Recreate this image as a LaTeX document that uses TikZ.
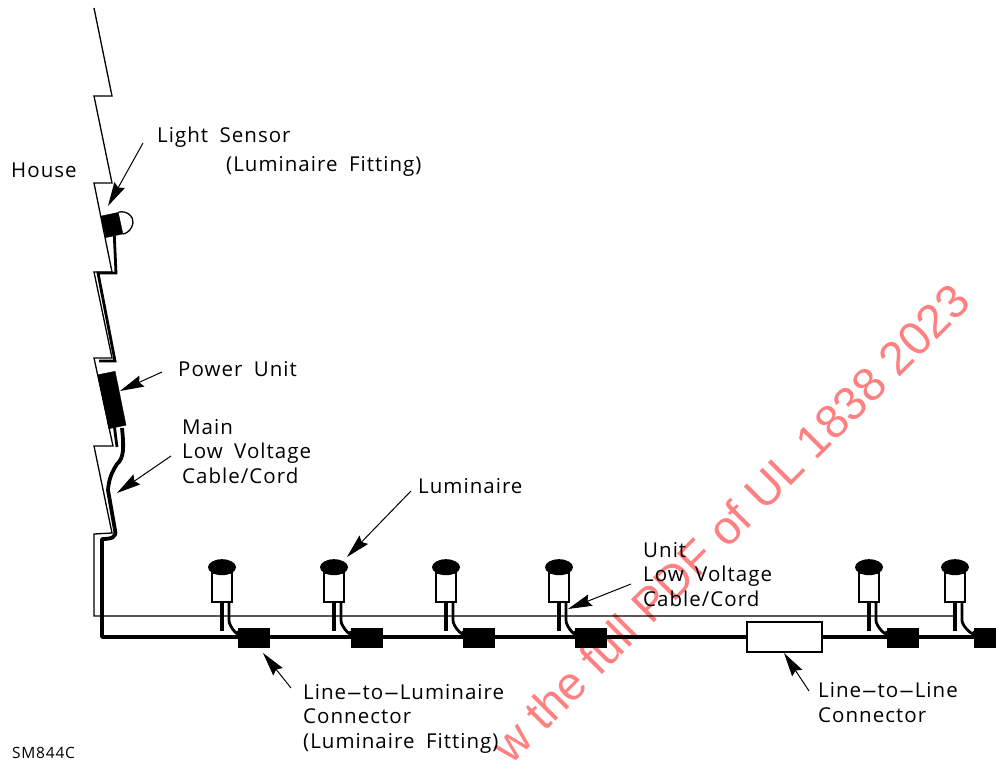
\documentclass[tikz,border=0pt]{standalone}
\usepackage{fontspec}
\usepackage{graphicx}
\setmainfont{Open Sans}[LetterSpace=5, WordSpace=1.8]
\newfontfamily\markfont{Liberation Sans}
\newcommand{\wdash}{\scalebox{2.5}[1]{-}}
\usetikzlibrary{arrows.meta, positioning, shapes.geometric}

\begin{document}
\begin{tikzpicture}[
    x=1pt, y=-1pt,
    lbl/.style={anchor=base west, inner sep=0pt, align=left,
                font=\fontsize{20.5}{24.5}\selectfont},
    wall/.style={line width=1.3pt},
    wire/.style={line width=3.8pt},
    thinwire/.style={line width=2.8pt},
    solid box/.style={draw, fill=black, inner sep=0pt},
    lumbody/.style={draw, fill=white, line width=1.2pt, inner sep=0pt,
                    minimum width=20pt, minimum height=29pt},
    lumhead/.style={ellipse, fill=black, inner sep=0pt,
                    minimum width=28pt, minimum height=16pt},
    conn/.style={solid box, minimum width=31pt, minimum height=19pt},
    lead/.style={-{Stealth[length=24pt, width=12pt, inset=3pt]}, line width=1pt}
]
\useasboundingbox (0,0) rectangle (996,762);

\node[anchor=base east, rotate=45, inner sep=0pt, text=red!50,
      font=\markfont\fontsize{47}{50}\selectfont] (mark) at (973,304)
      {w the full PDF of UL 1838 2023};

% house outline
\draw[wall] (94,8) -- (112,96) -- (94,96) -- (112,183) -- (94,183)
    -- (112,272) -- (94,272) -- (112,358) -- (94,358) -- (113,446)
    -- (94,446) -- (112,533) -- (94,534) -- (94,616) -- (953,616);

\node[solid box, minimum width=17.5pt, minimum height=22pt, rotate=12] (sensor) at (112,225) {};
\draw[wall] (sensor.north east) .. controls (127,210) and (134,217) .. (133,223)
    .. controls (132,229) and (128,233) .. (sensor.south east);
\node[solid box, minimum width=17.5pt, minimum height=55pt, rotate=11.4] (unit) at (112,400) {};

% main cable
\coordinate (bend) at (102,539);
\draw[thinwire] (sensor.south) -- (116,273) -- (98,273) -- (115,361) -- (99,361);
\draw[thinwire] (unit.south) ++(-3,0) -- (117,447);
\draw[wire, line join=round] (122,428) .. controls (124,448) and (124,458) .. (117,464)
    .. controls (112,472) and (109,478) .. (108,490)
    -- (115,530) .. controls (117,537) and (112,539) .. (bend)
    -- (102,637) -- (996,637);

\node[draw, fill=white, line width=1.2pt, inner sep=0pt, minimum width=75pt, minimum height=30pt] (line) at (784.5,637) {};

\foreach \n/\x/\c in {1/222/254, 2/334/366.5, 3/446/479, 4/559/591, 5/869/902.5, 6/955/990} {
    \node[lumbody] (body\n) at (\x,587.5) {};
    \node[lumhead, above=-3pt of body\n] (head\n) {};
    \node[conn] (box\n) at (\c,637.5) {};
    \draw[wire] (body\n.south) -- ++(0,28);
    \draw[thinwire] (body\n.south) ++(7,0) -- ++(0,18) .. controls +(0,6) and +(2,9) .. ([yshift=-3pt]box\n.north west);
}

\node[lbl] (house) at (11,178) {House};
\node[lbl] (sensorlbl) at (157,143) {Light Sensor};
\node[lbl] (fitting) at (226,172) {(Luminaire Fitting)};
\node[lbl] (unitlbl) at (178,376) {Power Unit};
\node[lbl] (mainlbl) at (182,483) {Main\\Low Voltage\\Cable/Cord};
\node[lbl] (lumlbl) at (418,493) {Luminaire};
\node[lbl] (cordlbl) at (643,606) {Unit\\Low Voltage\\Cable/Cord};
\node[lbl] (l2llbl) at (303,748) {Line\wdash to\wdash Luminaire\\Connector\\(Luminaire Fitting)};
\node[lbl] (ltllbl) at (818,722) {Line\wdash to\wdash Line\\Connector};
\node[lbl, font=\fontsize{15.5}{18}\selectfont] (code) at (12,758) {SM844C};

\coordinate (t1) at (143,143);  \coordinate (p1) at (108,206);
\coordinate (t2) at (162,372);  \coordinate (p2) at (120,391);
\coordinate (t3) at (171,456);  \coordinate (p3) at (117,493);
\coordinate (t4) at (411,491);  \coordinate (p4) at (347,557);
\coordinate (t5) at (631,584);  \coordinate (p5) at (568,609);
\coordinate (t6) at (291,688);  \coordinate (p6) at (263,653);
\coordinate (t7) at (809,691);  \coordinate (p7) at (784,653);
\foreach \i in {1,...,7} \draw[lead] (t\i) -- (p\i);
\end{tikzpicture}
\end{document}
